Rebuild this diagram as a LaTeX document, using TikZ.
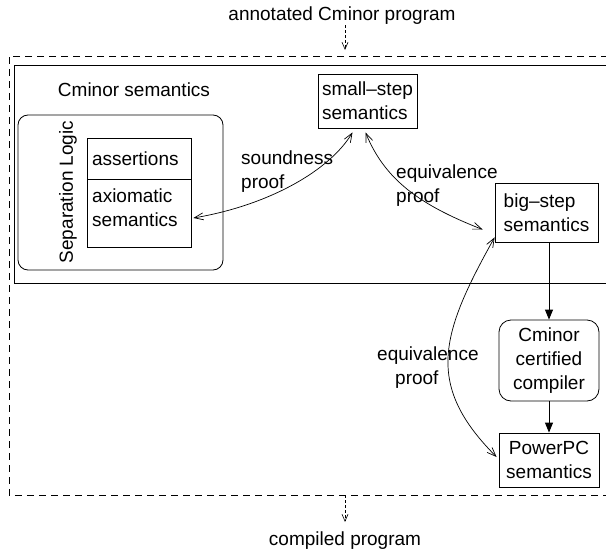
\documentclass[tikz,border=0pt]{standalone}
\usepackage{fontspec}
\setmainfont{Liberation Sans}
\usetikzlibrary{arrows.meta,calc}
\begin{document}
\begin{tikzpicture}[x=1pt,y=-1pt,
  every node/.style={font=\fontsize{19}{24}\selectfont},
  box/.style={draw, line width=0.8pt, inner sep=0pt},
  txt/.style={inner sep=0pt},
  link/.style={line width=0.7pt, {Straight Barb[length=9pt,width=7pt]}-{Straight Barb[length=9pt,width=7pt]}},
  flow/.style={line width=0.9pt, -{Triangle[length=10pt,width=8pt]}},
  io/.style={line width=0.6pt, dash pattern=on 3pt off 2pt, -{Straight Barb[length=7pt,width=6pt]}},
  outer/.style={line width=0.9pt, dash pattern=on 7pt off 5pt},
  inner/.style={line width=1pt}
]
\useasboundingbox (0,0) rectangle (606,549);
\clip (0,0) rectangle (606,549);

% input / output
\node[txt] (title) at (342,16) {annotated Cminor program};
\coordinate (tin) at (345,50);
\draw[io] (title.south -| tin) -- (tin);

% frames
\draw[outer] (620,56) -| (9,495) -- (620,495);
\draw[inner] (620,65) -| (14,283) -- (620,283);

\node[txt] (cminor) at (134,90) {Cminor semantics};

% Separation logic
\node[box, rounded corners=10pt, minimum width=205pt, minimum height=155pt] (sep) at (120.5,192.5) {};
\node[txt, rotate=90] (seplabel) at (68,192) {Separation Logic};
\node[box, minimum width=104pt, minimum height=41pt, text width=94pt, align=left] (assert) at (139,158.5) {assertions};
\node[box, minimum width=104pt, minimum height=68pt] (axio) at (139,213) {};
\node[txt, anchor=west, align=left] (axiotext) at (92,208) {axiomatic\\semantics};

% semantics boxes
\node[box, minimum width=99pt, minimum height=54pt, align=left] (small) at (367.5,101) {small\textendash step\\semantics};
\node[box, minimum width=103pt, minimum height=59pt, align=left] (big) at (546.5,212.5) {big\textendash step\\semantics};
\node[box, rounded corners=12pt, minimum width=100pt, minimum height=81pt, align=center] (comp) at (549,360.5) {Cminor\\certified\\compiler};
\node[box, minimum width=100pt, minimum height=54pt, align=center] (ppc) at (549,460) {PowerPC\\semantics};

% labels
\node[txt, anchor=west, align=left] (sound) at (241,172) {soundness\\proof};
\node[txt, anchor=west, align=left] (eq1) at (396,185.5) {equivalence\\proof};
\node[txt, anchor=west, align=left] (eq2) at (377,367.5) {equivalence\\\hspace*{18pt}proof};

% proofs
\draw[link] ($(axio.east)+(2,5)$) .. controls (270,205) and (330,170) .. ($(small.south)+(-15,4)$);
\draw[link] ($(small.south)+(-2,4)$) .. controls (385,180) and (420,205) .. ($(big.west)+(-12,17)$);
\draw[link] ($(big.south west)+(0,-5)$) .. controls (440,335) and (425,385) .. ($(ppc.west)+(-2,-3)$);

% compilation flow
\draw[flow] (comp.north |- big.south) -- (comp.north);
\draw[flow] (comp.south) -- (ppc.north);

\coordinate (oin) at (345,495);
\coordinate (otip) at (345,522);
\node[txt] (out) at (345,541) {compiled program};
\draw[io] (oin) -- (otip);
\end{tikzpicture}
\end{document}
